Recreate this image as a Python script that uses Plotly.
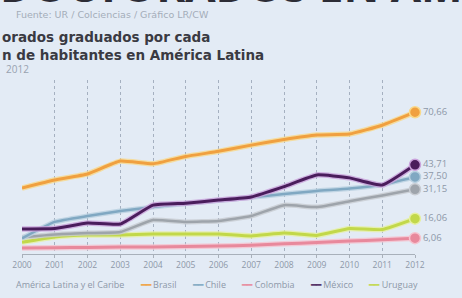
import plotly.graph_objects as go

years = list(range(2000, 2013))
brasil = [31.8, 35.9, 39.0, 45.6, 44.2, 48.0, 50.6, 53.8, 56.7, 59.0, 59.5, 64.0, 70.66]
mexico = [10.8, 11.0, 13.8, 13.3, 23.0, 24.0, 25.6, 27.2, 32.5, 38.5, 37.0, 33.3, 43.71]
chile = [6.0, 14.4, 17.4, 20.0, 22.0, 23.8, 25.4, 27.0, 28.7, 30.3, 31.5, 33.5, 37.5]
america_latina = [6.5, 8.0, 8.7, 9.2, 15.4, 14.4, 14.9, 17.4, 23.0, 22.0, 25.0, 28.0, 31.15]
uruguay = [4.0, 6.7, 7.7, 7.7, 8.2, 8.2, 8.2, 7.2, 8.7, 7.5, 11.0, 10.5, 16.06]
colombia = [1.0, 1.2, 1.3, 1.5, 1.6, 1.8, 2.0, 2.5, 3.2, 3.8, 4.6, 5.2, 6.06]

series_names = ["Colombia", "Uruguay", "América Latina y el Caribe", "Chile", "México", "Brasil"]
series_values = [colombia, uruguay, america_latina, chile, mexico, brasil]
colors = ["#e8899c", "#c2d84a", "#9ea4ab", "#80a8c2", "#4a1d5c", "#f0a040"]
halos = ["#f6c3cf", "#e6f0a0", "#c8ccd2", "#b8d0e0", "#caa2dc", "#f9d98a"]
widths = [3, 3, 2.5, 2.5, 3, 3]

title_lines = ["orados graduados por cada", "n de habitantes en América Latina"]
subtitle = "2012"
source = "Fuente: UR / Colciencias / Gráfico LR/CW"
headline = "DOCTORADOS EN AMÉRICA LATINA"

W, H = 462, 298
ML, MR, MT, MB = 14, 47, 80, 44
plot_h = H - MT - MB

def py(px):
    return (H - MB - px) / plot_h

def px_x(px):
    return (px - ML) / (W - ML - MR)

fig = go.Figure()

for name, vals, col, halo, w in zip(series_names, series_values, colors, halos, widths):
    fig.add_trace(go.Scatter(
        x=years, y=vals, mode="lines",
        line=dict(color=halo, width=w + 2.5, shape="spline", smoothing=0.4),
        opacity=0.8, hoverinfo="skip", showlegend=False, cliponaxis=False))
    fig.add_trace(go.Scatter(
        x=years, y=vals, mode="lines", name=name,
        line=dict(color=col, width=w, shape="spline", smoothing=0.4),
        showlegend=False, cliponaxis=False))

for name, vals, col, halo in zip(series_names, series_values, colors, halos):
    label = f"{vals[-1]:.2f}".replace(".", ",")
    fig.add_trace(go.Scatter(
        x=[years[-1]], y=[vals[-1]], mode="markers+text",
        marker=dict(color=col, size=11, line=dict(color=halo, width=1.5)),
        text=[label], textposition="middle right",
        textfont=dict(family="Open Sans", size=9.5, color="#8d98a8"),
        showlegend=False, cliponaxis=False))

annotations = [
    dict(text=f"<b>{headline}</b>", x=px_x(-10), y=py(17), xanchor="left", yanchor="bottom",
         font=dict(family="Open Sans", size=44, color="#2c2c36")),
    dict(text=source, x=px_x(6), y=py(15), xanchor="left", yanchor="middle",
         font=dict(family="DejaVu Sans", size=9.5, color="#a4adb9")),
    dict(text=f"<b>{title_lines[0]}</b><br><b>{title_lines[1]}</b>", x=px_x(-8), y=py(46),
         xanchor="left", yanchor="middle", align="left",
         font=dict(family="DejaVu Sans", size=13.5, color="#3a3a42")),
    dict(text=subtitle, x=px_x(-4), y=py(68.5), xanchor="left", yanchor="middle",
         font=dict(family="Open Sans", size=10, color="#98a2b0")),
]

legend_order = ["América Latina y el Caribe", "Brasil", "Chile", "Colombia", "México", "Uruguay"]
cmap = dict(zip(series_names, colors))
parts = [legend_order[0]]
for n in legend_order[1:]:
    parts.append(f"<span style='color:{cmap[n]}'>━━</span> {n}")
legend_text = "       ".join(parts)
annotations.append(dict(text=legend_text, x=px_x(6), y=py(284), xanchor="left", yanchor="middle",
                        font=dict(family="Open Sans", size=9, color="#8d98a8")))

for a in annotations:
    a.update(xref="paper", yref="paper", showarrow=False)

fig.update_layout(
    width=W, height=H,
    margin=dict(l=ML, r=MR, t=MT, b=MB),
    paper_bgcolor="#e3ebf5", plot_bgcolor="#e3ebf5",
    showlegend=False,
    annotations=annotations,
    xaxis=dict(range=[2000, 2012], tickmode="array", tickvals=years,
               ticktext=[str(y) for y in years],
               showgrid=True, gridcolor="#a5b0c0", griddash="dot", gridwidth=1,
               showline=True, linecolor="#a8b0ba", linewidth=1,
               ticks="outside", ticklen=3, tickcolor="#a8b0ba",
               tickfont=dict(family="Open Sans", size=8.5, color="#8d98a8"),
               zeroline=False),
    yaxis=dict(range=[-2.05, 87.2], showgrid=False, zeroline=False,
               showticklabels=False, showline=False),
)

fig.write_html("out.html", config={"displayModeBar": False},
               post_script="document.body.style.margin='0';document.body.style.overflow='hidden';")
